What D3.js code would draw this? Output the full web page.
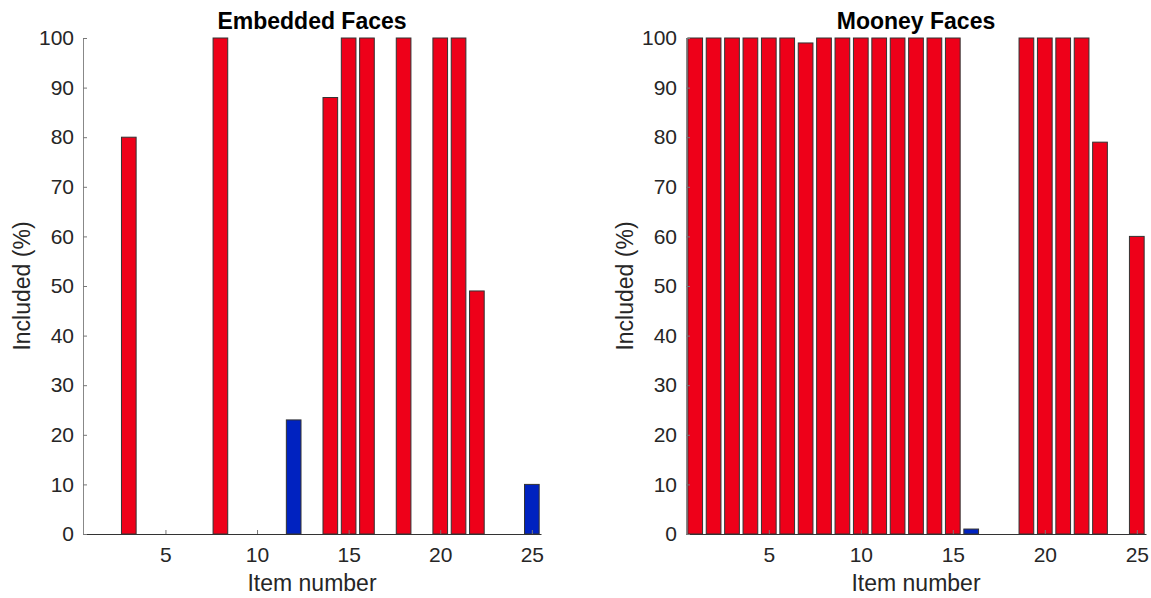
<!DOCTYPE html>
<html><head><meta charset="utf-8">
<script src="https://cdn.jsdelivr.net/npm/d3@7"></script>
<style>body{margin:0;background:#fff}svg{display:block}</style>
</head><body>
<svg id="c" width="1151" height="598"></svg>
<script>
const items = d3.range(1, 26);
const embeddedValues = [0,0,80,0,0,0,0,100,0,0,0,23,0,88,100,100,0,100,0,100,100,49,0,0,10];
const embeddedColors = ["r","r","r","r","r","r","r","r","r","r","r","b","r","r","r","r","r","r","r","r","r","r","r","r","b"];
const mooneyValues = [100,100,100,100,100,100,99,100,100,100,100,100,100,100,100,1,0,0,100,100,100,100,79,0,60];
const mooneyColors = ["r","r","r","r","r","r","r","r","r","r","r","r","r","r","r","b","r","r","r","r","r","r","r","r","r"];
const xTicks = [5,10,15,20,25];
const yTicks = [0,10,20,30,40,50,60,70,80,90,100];
const titles = ["Embedded Faces","Mooney Faces"];

const FONT = "'Liberation Sans', Arial, Helvetica, sans-serif";
const colorMap = {r:"#ee0019", b:"#0022c0"};
const svg = d3.select("#c");

function panel(x0, x1, values, colors, title) {
  const top = 38, bottom = 534;
  const x = d3.scaleLinear().domain([0.5, 25.5]).range([x0, x1]);
  const y = d3.scaleLinear().domain([0, 100]).range([bottom, top]);
  const g = svg.append("g");
  const bw = (x(1) - x(0)) * 0.8;

  g.selectAll("rect.bar").data(items).enter().append("rect")
    .attr("x", d => x(d) - bw/2)
    .attr("y", (d,i) => y(values[i]))
    .attr("width", bw)
    .attr("height", (d,i) => y(0) - y(values[i]))
    .attr("fill", (d,i) => colorMap[colors[i]])
    .attr("stroke", "#333")
    .attr("stroke-width", 1);

  const xa = d3.axisBottom(x).tickValues(xTicks).tickSize(-4).tickPadding(13).tickSizeOuter(0);
  const gx = g.append("g").attr("transform", `translate(0,${bottom})`).call(xa);
  const ya = d3.axisLeft(y).tickValues(yTicks).tickSize(-4).tickPadding(9).tickSizeOuter(0);
  const gy = g.append("g").attr("transform", `translate(${x0},0)`).call(ya);
  [gx, gy].forEach(a => {
    a.select(".domain").attr("stroke", "#333").attr("stroke-width", 1);
    a.selectAll(".tick line").attr("stroke", "#777");
    a.selectAll("text").attr("font-family", FONT).attr("font-size", 21).attr("fill", "#262626");
  });
  gy.select(".domain").attr("stroke", "#888");

  g.append("text").attr("x", (x0 + x1)/2).attr("y", 29)
    .attr("text-anchor", "middle").attr("font-family", FONT)
    .attr("font-weight", "bold").attr("font-size", 23).attr("fill", "#000").text(title);
  g.append("text").attr("x", (x0 + x1)/2).attr("y", 591)
    .attr("text-anchor", "middle").attr("font-family", FONT)
    .attr("font-size", 23).attr("fill", "#262626").text("Item number");
  g.append("text").attr("transform", `translate(${x0 - 53},${(top+bottom)/2}) rotate(-90)`)
    .attr("text-anchor", "middle").attr("font-family", FONT)
    .attr("font-size", 23).attr("fill", "#262626").text("Included (%)");
}

panel(83, 541, embeddedValues, embeddedColors, titles[0]);
panel(686, 1146, mooneyValues, mooneyColors, titles[1]);
</script>
</body></html>
